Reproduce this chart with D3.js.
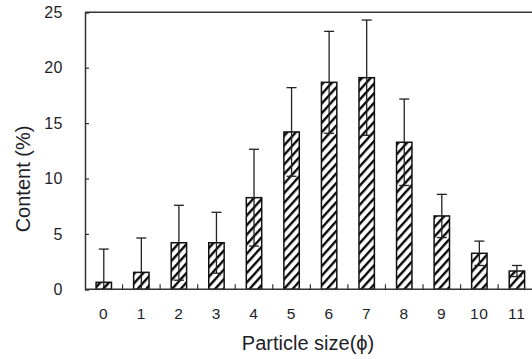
<!DOCTYPE html>
<html>
<head>
<meta charset="utf-8">
<script src="https://cdn.jsdelivr.net/npm/d3@7"></script>
<style>
  html, body { margin: 0; padding: 0; background: #fff; }
  svg { display: block; }
  text { font-family: Arial, "Liberation Sans", sans-serif; fill: #1e1e28; }
</style>
</head>
<body>
<div id="chart"></div>
<script>
// particle size classes (phi)
const categories = ["0", "1", "2", "3", "4", "5", "6", "7", "8", "9", "10", "11"];
// mean content (%)
const values = [0.63, 1.53, 4.2, 4.2, 8.27, 14.2, 18.68, 19.1, 13.27, 6.62, 3.25, 1.65];
// error (+/-)
const errors = [3.0, 3.1, 3.38, 2.75, 4.37, 4.0, 4.6, 5.2, 3.9, 1.95, 1.1, 0.5];
const yTicks = [0, 5, 10, 15, 20, 25];

const width = 532, height = 359;
const margin = { top: 12.3, left: 85, bottom: 69.7 };
const plotW = 450.7;

const svg = d3.select("#chart").append("svg")
  .attr("width", width)
  .attr("height", height);

// hatch pattern
const defs = svg.append("defs");
const pat = defs.append("pattern")
  .attr("id", "hatch")
  .attr("patternUnits", "userSpaceOnUse")
  .attr("width", 6.4)
  .attr("height", 6.4)
  .attr("patternTransform", "rotate(42)");
pat.append("rect").attr("width", 6.4).attr("height", 6.4).attr("fill", "#fff");
pat.append("line")
  .attr("x1", 1.2).attr("x2", 1.2)
  .attr("y1", 0).attr("y2", 6.4)
  .attr("stroke", "#000")
  .attr("stroke-width", 2.3);

// x scale
const x = d3.scaleBand()
  .domain(categories)
  .range([margin.left, margin.left + plotW])
  .paddingInner(0.59)
  .paddingOuter(0.295);

// y scale
const y = d3.scaleLinear()
  .domain([0, 25])
  .range([height - margin.bottom, margin.top]);

const axisColor = "#333";

// top border
svg.append("line")
  .attr("x1", margin.left).attr("x2", margin.left + plotW)
  .attr("y1", y(25)).attr("y2", y(25))
  .attr("stroke", axisColor).attr("stroke-width", 1.5);

// bars
svg.append("g")
  .selectAll("rect")
  .data(values)
  .join("rect")
  .attr("x", (d, i) => x(categories[i]))
  .attr("y", (d) => y(d))
  .attr("width", x.bandwidth())
  .attr("height", (d) => y(0) - y(d))
  .attr("fill", "url(#hatch)")
  .attr("stroke", "#111")
  .attr("stroke-width", 1.5);

// error bars
const capW = 10;
const eg = svg.append("g")
  .attr("stroke", "#222")
  .attr("stroke-width", 1.3);
values.forEach((v, i) => {
  const cx = x(categories[i]) + x.bandwidth() / 2;
  const hi = v + errors[i];
  const lo = Math.max(0, v - errors[i]);
  eg.append("line")
    .attr("x1", cx).attr("x2", cx)
    .attr("y1", y(hi)).attr("y2", y(lo));
  eg.append("line")
    .attr("x1", cx - capW / 2).attr("x2", cx + capW / 2)
    .attr("y1", y(hi)).attr("y2", y(hi));
  if (v - errors[i] > 0) {
    eg.append("line")
      .attr("x1", cx - capW / 2).attr("x2", cx + capW / 2)
      .attr("y1", y(lo)).attr("y2", y(lo));
  }
});

// y axis
const yAxis = svg.append("g")
  .attr("transform", "translate(" + margin.left + ",0)")
  .call(d3.axisRight(y).tickValues(yTicks).tickSize(4).tickFormat(""));
yAxis.select(".domain").attr("stroke", axisColor).attr("stroke-width", 1.5);
yAxis.selectAll(".tick line").attr("stroke", axisColor).attr("stroke-width", 1.2);

svg.append("g")
  .selectAll("text")
  .data(yTicks)
  .join("text")
  .attr("x", 63)
  .attr("y", (d) => y(d))
  .attr("dy", "0.36em")
  .attr("text-anchor", "end")
  .style("font-size", "16px")
  .style("letter-spacing", "0.5px")
  .text((d) => d);

// x axis: ticks at category boundaries, pointing up
const bounds = categories.slice(1).map((c) => x(c) - x.step() * x.paddingInner() / 2);
const xg = svg.append("g");
xg.append("line")
  .attr("x1", margin.left).attr("x2", margin.left + plotW)
  .attr("y1", y(0)).attr("y2", y(0))
  .attr("stroke", axisColor).attr("stroke-width", 1.5);
xg.selectAll("line.tk")
  .data(bounds)
  .join("line")
  .attr("class", "tk")
  .attr("x1", (d) => d).attr("x2", (d) => d)
  .attr("y1", y(0)).attr("y2", y(0) - 5)
  .attr("stroke", axisColor).attr("stroke-width", 1.2);

svg.append("g")
  .selectAll("text")
  .data(categories)
  .join("text")
  .attr("x", (d) => x(d) + x.bandwidth() / 2)
  .attr("y", 319)
  .attr("text-anchor", "middle")
  .style("font-size", "15.5px")
  .style("letter-spacing", "0.8px")
  .text((d) => d);

// axis titles
svg.append("text")
  .attr("x", 308)
  .attr("y", 350)
  .attr("text-anchor", "middle")
  .style("font-size", "20px")
  .text("Particle size(ϕ)");

svg.append("text")
  .attr("transform", "translate(30,179) rotate(-90)")
  .attr("text-anchor", "middle")
  .style("font-size", "20px")
  .text("Content (%)");
</script>
</body>
</html>
